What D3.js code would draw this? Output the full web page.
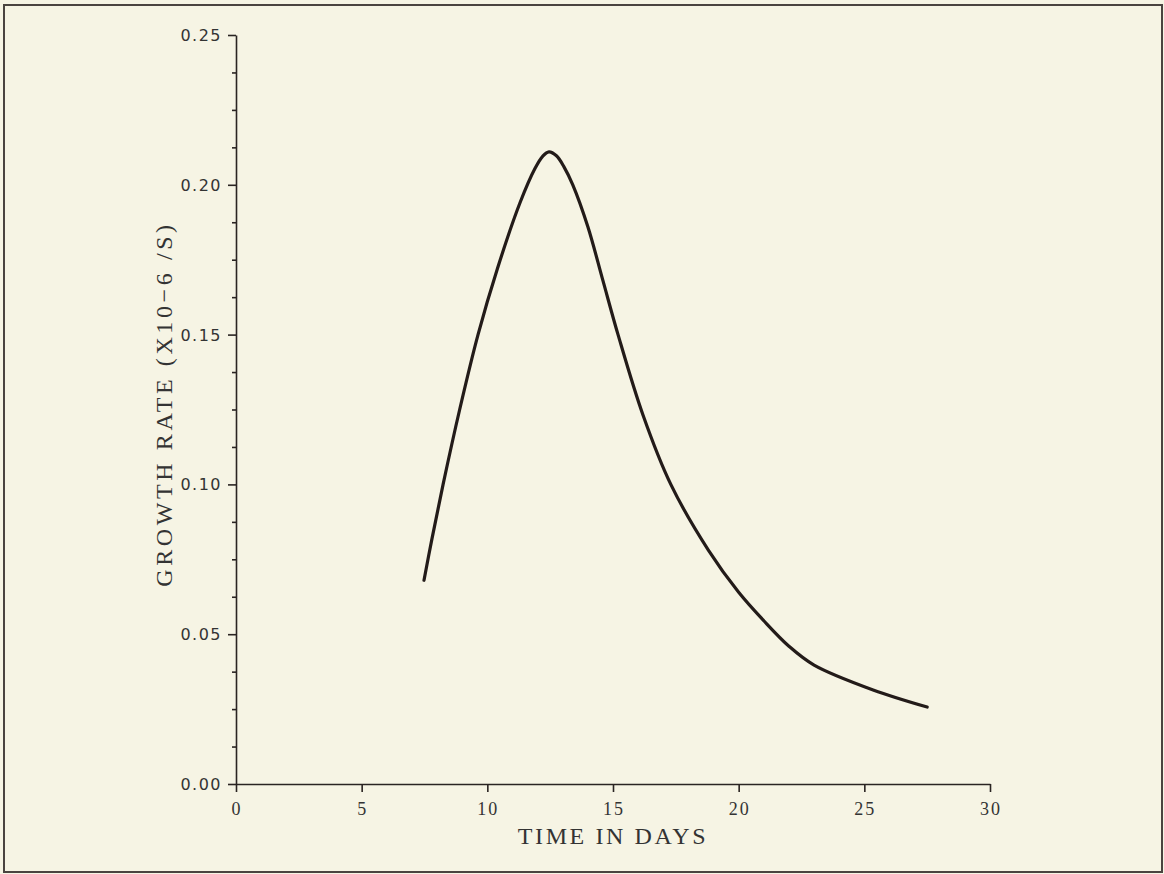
<!DOCTYPE html>
<html lang="en">
<head>
  <meta charset="UTF-8">
  <title>Growth rate vs time</title>
  <script src="https://d3js.org/d3.v7.min.js"></script>
  <style>
    body { margin: 0; background: #f6f4e4; }
    .frame { fill: none; stroke: #4a4440; stroke-width: 2px; }
    .curve { fill: none; stroke: #231b19; stroke-width: 3.2px; stroke-linecap: round; }
    .axis path, .axis line { stroke: #2a2422; stroke-width: 1.6px; }
    .ylab { font: 16px "DejaVu Sans", sans-serif; fill: #333; letter-spacing: 1.5px; }
    .xlab { font: 18px "Liberation Serif", serif; fill: #333; letter-spacing: 2px; }
    .title { font: 24px "Liberation Serif", serif; fill: #333; letter-spacing: 2.6px; }
  </style>
</head>
<body>
<svg width="1164" height="874"></svg>
<script>
  // days vs growth rate (x10^-6 /s)
  const days = [7.48, 7.8, 8.24, 8.9, 9.63, 10.4, 11.3, 11.9, 12.2, 12.45, 12.75,
                13.05, 13.4, 14.0, 14.6, 15.2, 16.2, 17.3, 18.8, 20.0, 21.0, 22.0, 23.0, 25.35, 27.5];
  const rate = [0.068, 0.082, 0.100, 0.125, 0.150, 0.172, 0.194, 0.2055, 0.2095, 0.211, 0.2097,
                0.206, 0.200, 0.186, 0.168, 0.150, 0.123, 0.100, 0.078, 0.064, 0.0545, 0.046, 0.0397, 0.0314, 0.0257];
  const xTicks = [0, 5, 10, 15, 20, 25, 30];
  const yTicks = [0, 0.05, 0.10, 0.15, 0.20, 0.25];

  const svg = d3.select("svg");

  svg.append("rect").attr("class", "frame")
    .attr("x", 4).attr("y", 5).attr("width", 1158).attr("height", 867);

  const x = d3.scaleLinear().domain([0, 30]).range([236, 990]);
  const y = d3.scaleLinear().domain([0, 0.25]).range([784, 35]);

  // x axis
  const gx = svg.append("g").attr("class", "axis")
    .attr("transform", `translate(0,${y(0)})`)
    .call(d3.axisBottom(x).tickValues(xTicks).tickSize(8).tickSizeOuter(0).tickFormat(""));
  gx.selectAll(".tick text").remove();
  svg.append("g").selectAll("text")
    .data(xTicks)
    .join("text")
    .attr("class", "xlab")
    .attr("x", d => x(d) + 1)
    .attr("y", 815)
    .attr("text-anchor", "middle")
    .text(d => d);

  // y axis with minor ticks
  const minor = d3.range(0, 0.2501, 0.0125).filter(v => Math.abs(v / 0.05 - Math.round(v / 0.05)) > 1e-6);
  svg.append("g").attr("class", "axis")
    .attr("transform", `translate(${x(0)},0)`)
    .call(d3.axisLeft(y).tickValues(minor).tickSize(4).tickSizeOuter(0).tickFormat(""))
    .select(".domain").remove();
  svg.append("g").attr("class", "axis")
    .attr("transform", `translate(${x(0)},0)`)
    .call(d3.axisLeft(y).tickValues(yTicks).tickSize(8).tickSizeOuter(0).tickFormat(""));
  svg.append("g").selectAll("text")
    .data(yTicks)
    .join("text")
    .attr("class", "ylab")
    .attr("x", 222)
    .attr("y", d => y(d) + 6)
    .attr("text-anchor", "end")
    .text(d => d3.format(".2f")(d));

  // titles
  svg.append("text").attr("class", "title")
    .attr("x", 613).attr("y", 844)
    .attr("text-anchor", "middle")
    .text("TIME IN DAYS");
  svg.append("text").attr("class", "title")
    .attr("transform", "translate(172,404) rotate(-90)")
    .attr("text-anchor", "middle")
    .style("letter-spacing", "3.6px")
    .text("GROWTH RATE (X10\u22126 /S)");

  // curve
  const line = d3.line()
    .x((d, i) => x(days[i]))
    .y(d => y(d))
    .curve(d3.curveCatmullRom.alpha(0.5));
  svg.append("path").attr("class", "curve").attr("d", line(rate));
</script>
</body>
</html>
